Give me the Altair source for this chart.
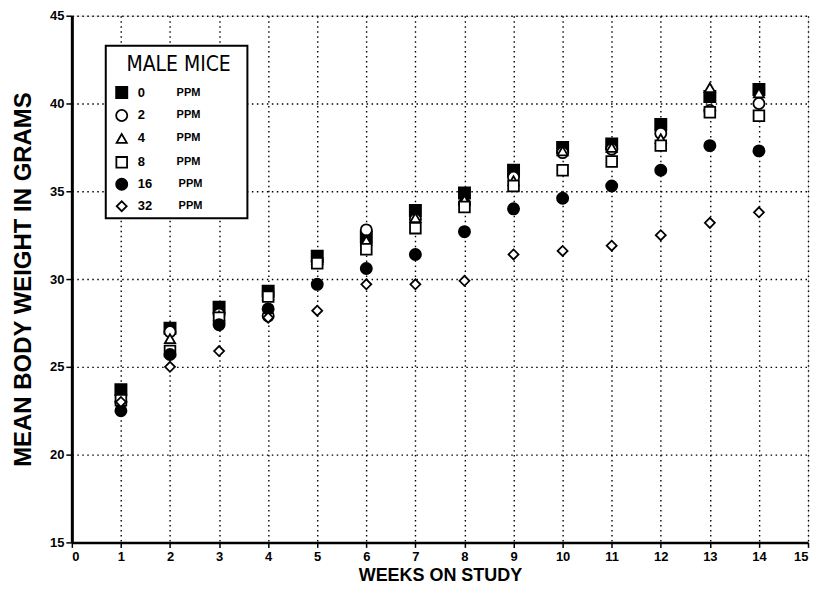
import altair as alt
import pandas as pd

weeks = [1, 2, 3, 4, 5, 6, 7, 8, 9, 10, 11, 12, 13, 14]
doses = ["0", "2", "4", "8", "16", "32"]
ppm_0 = [23.7, 27.2, 28.4, 29.3, 31.3, 32.4, 33.9, 34.9, 36.2, 37.5, 37.7, 38.8, 40.4, 40.8]
ppm_2 = [23.0, 27.0, 28.0, 27.9, 31.0, 32.8, 33.4, 34.3, 35.8, 37.2, 37.4, 38.3, 39.6, 40.0]
ppm_4 = [23.3, 26.6, 27.9, 29.1, 31.1, 32.2, 33.5, 34.5, 35.6, 37.3, 37.5, 38.0, 40.9, 40.6]
ppm_8 = [23.1, 25.9, 27.8, 29.0, 30.9, 31.7, 32.9, 34.1, 35.3, 36.2, 36.7, 37.6, 39.5, 39.3]
ppm_16 = [22.5, 25.7, 27.4, 28.3, 29.7, 30.6, 31.4, 32.7, 34.0, 34.6, 35.3, 36.2, 37.6, 37.3]
ppm_32 = [23.0, 25.0, 25.9, 27.8, 28.2, 29.7, 29.7, 29.9, 31.4, 31.6, 31.9, 32.5, 33.2, 33.8]
series = [ppm_0, ppm_2, ppm_4, ppm_8, ppm_16, ppm_32]
shapes = ["square", "circle", "triangle-up", "square", "circle", "diamond"]
fills = ["black", "white", "white", "white", "black", "white"]
sizes = [125, 125, 105, 115, 125, 100]

x_ticks = list(range(0, 16))
y_ticks = [15, 20, 25, 30, 35, 40, 45]
FONT = "Liberation Sans"

rows = []
for d, vals in zip(doses, series):
    for w, v in zip(weeks, vals):
        rows.append({"week": w, "weight": v, "dose": d})
df = pd.DataFrame(rows)
one_row = pd.DataFrame({"k": [0]})

xenc = alt.X("week:Q", scale=alt.Scale(domain=[0, 15], nice=False, zero=False),
             axis=alt.Axis(values=x_ticks, title="WEEKS ON STUDY", grid=True,
                           gridDash=[1.5, 3.5], gridColor="black", gridWidth=1.4,
                           domainWidth=2.5, domainColor="black", tickColor="black",
                           tickSize=5, tickWidth=1.5, labelPadding=3,
                           labelFont=FONT, labelFontSize=13, labelFontWeight="bold",
                           labelColor="black", titleFont=FONT, titleFontSize=18,
                           titleFontWeight="bold", titleColor="black", titlePadding=3))
yenc = alt.Y("weight:Q", scale=alt.Scale(domain=[15, 45], nice=False, zero=False),
             axis=alt.Axis(values=y_ticks, title="MEAN BODY WEIGHT IN GRAMS", grid=True,
                           gridDash=[1.5, 3.5], gridColor="black", gridWidth=1.4,
                           domainWidth=3, domainColor="black", tickColor="black",
                           tickSize=6, tickWidth=1.5, labelPadding=2,
                           labelFont=FONT, labelFontSize=13, labelFontWeight="bold",
                           labelColor="black", titleFont=FONT, titleFontSize=24,
                           titleFontWeight="bold", titleColor="black", titlePadding=14))

layers = []
# legend box
layers.append(alt.Chart(one_row).mark_rect(fill="white", stroke="black", strokeWidth=2).encode(
    x=alt.value(34), x2=alt.value(176), y=alt.value(30), y2=alt.value(203)))
layers.append(alt.Chart(one_row).mark_text(text="MALE MICE", font="DejaVu Sans Condensed",
                                           fontSize=21, fontWeight="normal", align="center",
                                           baseline="middle", color="black").encode(
    x=alt.value(107), y=alt.value(49)))
row_y = [77, 100, 123, 147, 169, 191]
for i, d in enumerate(doses):
    sub = df[df.dose == d]
    layers.append(alt.Chart(sub).mark_point(shape=shapes[i], size=sizes[i], fill=fills[i],
                                            stroke="black", strokeWidth=1.8, opacity=1,
                                            fillOpacity=1, filled=True).encode(x=xenc, y=yenc))
for i, d in enumerate(doses):
    layers.append(alt.Chart(one_row).mark_point(shape=shapes[i], size=sizes[i], fill=fills[i],
                                                stroke="black", strokeWidth=1.8, opacity=1,
                                                fillOpacity=1, filled=True).encode(
        x=alt.value(50), y=alt.value(row_y[i])))
    layers.append(alt.Chart(one_row).mark_text(text=d, font=FONT, fontSize=13, fontWeight="bold",
                                               align="left", baseline="middle",
                                               color="black").encode(
        x=alt.value(66), y=alt.value(row_y[i])))
    layers.append(alt.Chart(one_row).mark_text(text="PPM", font=FONT, fontSize=11,
                                               fontWeight="bold", align="left",
                                               baseline="middle", color="black").encode(
        x=alt.value(105 + (2 if i >= 4 else 0)), y=alt.value(row_y[i])))

chart = alt.layer(*layers).properties(
    width=738, height=528,
    autosize=alt.AutoSizeParams(type="none"),
    padding={"left": 64, "top": 7, "right": 4, "bottom": 50},
).configure_view(stroke="black", strokeWidth=2).configure(background="white")

chart.save("out.html", embed_options={"renderer": "svg", "actions": False})
